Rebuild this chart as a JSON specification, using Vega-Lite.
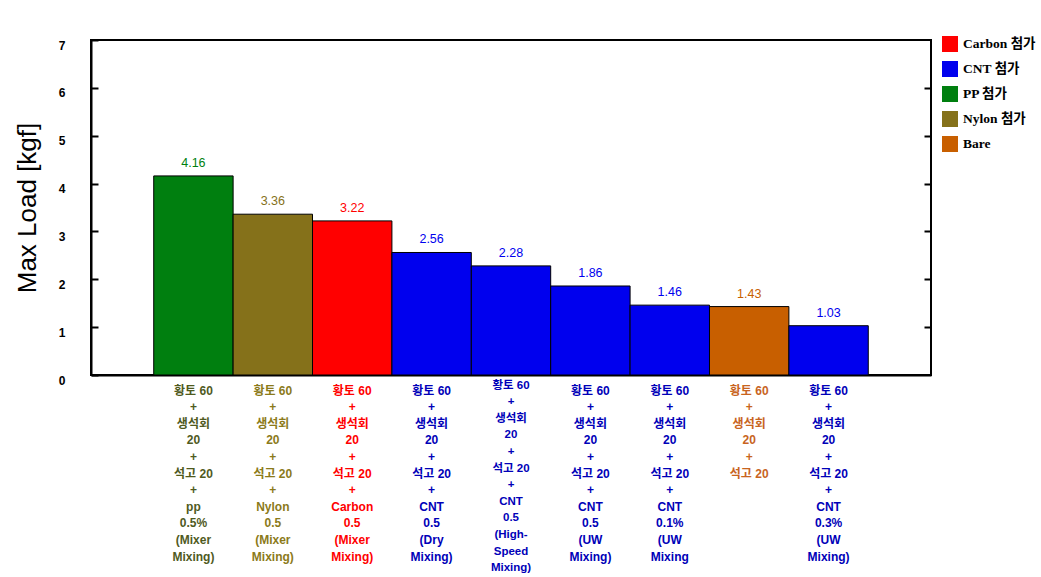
{
  "$schema": "https://vega.github.io/schema/vega-lite/v6.json",
  "width": 840,
  "height": 335,
  "padding": {"left": 14, "top": 36, "right": 0, "bottom": 0},
  "background": "white",
  "config": {
    "view": {"stroke": "black", "strokeWidth": 2},
    "font": "Liberation Sans"
  },
  "data": {
    "values": [
      {"name": "황토 60|+|생석회|20|+|석고 20|+|pp|0.5%|(Mixer|Mixing)", "group": "PP 첨가", "load": 4.16},
      {"name": "황토 60|+|생석회|20|+|석고 20|+|Nylon|0.5|(Mixer|Mixing)", "group": "Nylon 첨가", "load": 3.36},
      {"name": "황토 60|+|생석회|20|+|석고 20|+|Carbon|0.5|(Mixer|Mixing)", "group": "Carbon 첨가", "load": 3.22},
      {"name": "황토 60|+|생석회|20|+|석고 20|+|CNT|0.5|(Dry|Mixing)", "group": "CNT 첨가", "load": 2.56},
      {"name": "황토 60|+|생석회|20|+|석고 20|+|CNT|0.5|(High-|Speed|Mixing)", "group": "CNT 첨가", "load": 2.28},
      {"name": "황토 60|+|생석회|20|+|석고 20|+|CNT|0.5|(UW|Mixing)", "group": "CNT 첨가", "load": 1.86},
      {"name": "황토 60|+|생석회|20|+|석고 20|+|CNT|0.1%|(UW|Mixing", "group": "CNT 첨가", "load": 1.46},
      {"name": "황토 60|+|생석회|20|+|석고 20", "group": "Bare", "load": 1.43},
      {"name": "황토 60|+|생석회|20|+|석고 20|+|CNT|0.3%|(UW|Mixing)", "group": "CNT 첨가", "load": 1.03}
    ]
  },
  "encoding": {
    "x": {
      "field": "name",
      "type": "nominal",
      "sort": null,
      "scale": {"paddingInner": 0, "paddingOuter": 0.79},
      "axis": {
        "title": null,
        "labelAngle": 0,
        "labelExpr": "split(datum.label, '|')",
        "labelFont": "Liberation Sans, Noto Sans CJK KR",
        "labelFontSize": {
          "condition": {"test": "indexof(datum.value, 'High') >= 0", "value": 11.5},
          "value": 12
        },
        "labelFontWeight": "bold",
        "labelLineHeight": 16.6,
        "labelPadding": {
          "condition": {"test": "indexof(datum.value, 'High') >= 0", "value": 4},
          "value": 10
        },
        "labelBaseline": "top",
        "labelLimit": 0,
        "ticks": false,
        "domainColor": "black",
        "domainWidth": 2,
        "labelColor": {
          "condition": [
            {"test": "indexof(datum.value, 'CNT') >= 0", "value": "#0000B8"},
            {"test": "indexof(datum.value, 'Carbon') >= 0", "value": "#FF0000"},
            {"test": "indexof(datum.value, 'Nylon') >= 0", "value": "#8B7A1A"},
            {"test": "indexof(datum.value, 'pp') >= 0", "value": "#4F5A1E"}
          ],
          "value": "#C8641E"
        }
      }
    },
    "y": {
      "field": "load",
      "type": "quantitative",
      "scale": {"domain": [0, 7], "nice": false}
    },
    "color": {
      "field": "group",
      "type": "nominal",
      "scale": {
        "domain": ["Carbon 첨가", "CNT 첨가", "PP 첨가", "Nylon 첨가", "Bare"],
        "range": ["#FF0000", "#0000EE", "#007F0F", "#85711A", "#C85F00"]
      },
      "legend": {
        "title": null,
        "orient": "none",
        "legendX": 851,
        "legendY": -4,
        "symbolType": "square",
        "symbolSize": 256,
        "symbolStrokeWidth": 0,
        "rowPadding": 9,
        "labelFont": "Liberation Serif, Noto Sans CJK KR",
        "labelFontWeight": "bold",
        "labelFontSize": 13.5,
        "labelColor": "black",
        "labelOffset": 5
      }
    }
  },
  "layer": [
    {
      "mark": {"type": "bar", "stroke": "black", "strokeWidth": 1},
      "encoding": {
        "y": {
          "field": "load",
          "type": "quantitative",
          "scale": {"domain": [0, 7], "nice": false},
          "axis": {
            "title": "Max Load [kgf]",
            "titleFontSize": 26,
            "titleFontWeight": "normal",
            "titleColor": "black",
            "titleFont": "Liberation Sans",
            "titlePadding": 18,
            "values": [0, 1, 2, 3, 4, 5, 6, 7],
            "grid": false,
            "domainColor": "black",
            "domainWidth": 2,
            "tickSize": -7,
            "tickWidth": 2,
            "tickColor": "black",
            "labelPadding": 33,
            "labelOffset": 5,
            "labelFontWeight": "bold",
            "labelFontSize": 12,
            "labelColor": "black"
          }
        }
      }
    },
    {
      "mark": {"type": "text", "baseline": "bottom", "dy": -6, "fontSize": 12.5, "font": "Liberation Sans"},
      "encoding": {
        "text": {"field": "load", "type": "quantitative", "format": ".2f"},
        "y": {
          "field": "load",
          "type": "quantitative",
          "scale": {"domain": [0, 7], "nice": false},
          "axis": {
            "orient": "right",
            "title": null,
            "labels": false,
            "grid": false,
            "domain": false,
            "values": [1, 2, 3, 4, 5, 6],
            "tickSize": -7,
            "tickWidth": 2,
            "tickColor": "black"
          }
        }
      }
    }
  ],
  "resolve": {"axis": {"y": "independent"}}
}
